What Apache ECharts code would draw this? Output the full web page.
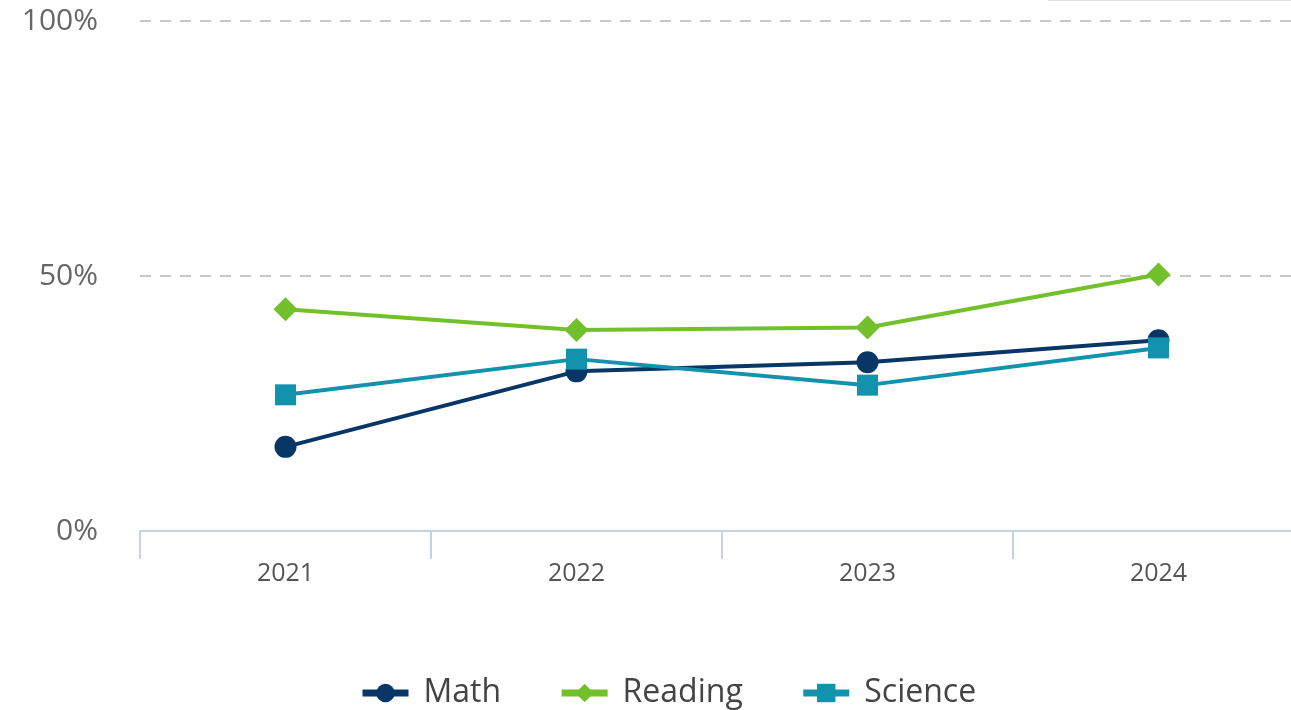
<!DOCTYPE html>
<html><head><meta charset="utf-8">
<script src="https://cdn.jsdelivr.net/npm/echarts@6/dist/echarts.min.js"></script>
<style>html,body{margin:0;padding:0;background:#fff}#c{width:1291px;height:710px}</style>
</head><body><div id="c"></div>
<script>
const years = ['2021', '2022', '2023', '2024'];
const math = [16.5, 31.3, 33.1, 37.4];
const reading = [43.5, 39.4, 39.9, 50.3];
const science = [26.7, 33.7, 28.6, 35.9];
const yTicks = [0, 50, 100];

const chart = echarts.init(document.getElementById('c'));
const font = '"Open Sans", "Noto Sans", sans-serif';
function mk(name, data, color, symbol, size) {
  return {
    name, type: 'line', data, symbol, symbolSize: size,
    lineStyle: { color, width: 4 },
    itemStyle: { color },
    emphasis: { disabled: true }
  };
}
chart.setOption({
  animation: false,
  textStyle: { fontFamily: font },
  grid: { left: 140, top: 21, width: 1164, bottom: 179, outerBoundsMode: 'none', containLabel: false },
  xAxis: {
    type: 'category', data: years, boundaryGap: true,
    axisLine: { lineStyle: { color: '#c3d3e6', width: 2 } },
    axisTick: { show: true, length: 28, lineStyle: { color: '#c3d3e6', width: 2 } },
    axisLabel: { color: '#555', fontSize: 25, margin: 30, fontFamily: font }
  },
  yAxis: {
    type: 'value', min: 0, max: 100, interval: 50,
    axisLine: { show: false }, axisTick: { show: false },
    axisLabel: { color: '#666', fontSize: 30, margin: 42, fontFamily: font, padding: [5, 0, 0, 0],
      formatter: v => yTicks.includes(v) ? v + '%' : '' },
    splitLine: { lineStyle: { color: '#c8c8c8', width: 2, type: [11, 9] } }
  },
  legend: {
    bottom: -4, left: 354, itemWidth: 46, itemHeight: 23, itemGap: 57,
    lineStyle: { width: 7 },
    textStyle: { color: '#444', fontSize: 32, fontFamily: font, padding: [0, 0, 0, 10] },
    data: ['Math', 'Reading', 'Science']
  },
  graphic: [{ type: 'line', shape: { x1: 1048, y1: 0.5, x2: 1291, y2: 0.5 }, style: { stroke: '#e0e0e0', lineWidth: 1 } }],
  series: [
    mk('Math', math, '#083667', 'circle', 22),
    mk('Reading', reading, '#72c02c', 'diamond', 24),
    mk('Science', science, '#1392ad', 'rect', 21)
  ]
});
</script></body></html>
